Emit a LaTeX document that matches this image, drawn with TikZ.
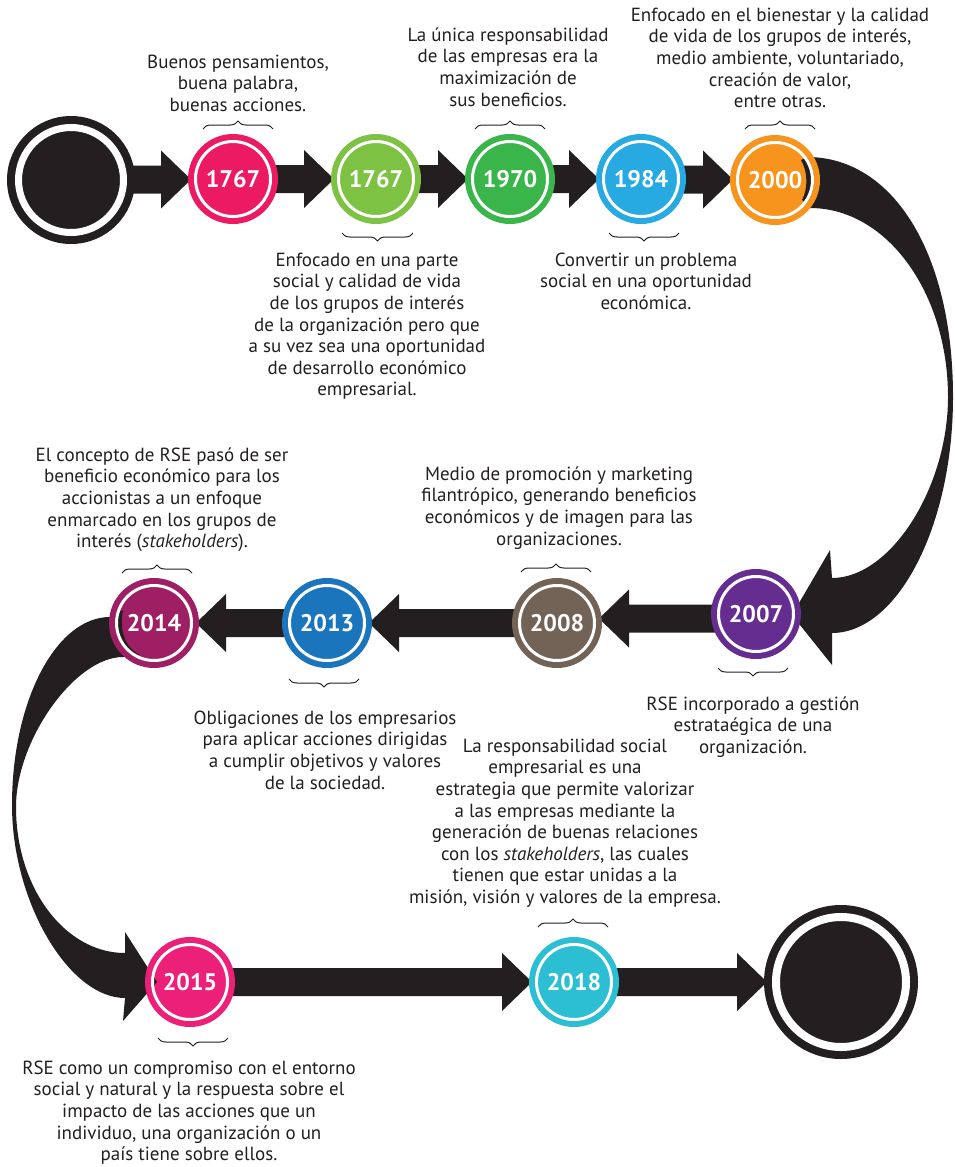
\documentclass[tikz,border=0pt]{standalone}
\usepackage{fontspec}
\setmainfont{PT Sans}
\usetikzlibrary{calc,decorations.pathreplacing}
\definecolor{ink}{HTML}{231F20}
\definecolor{c1767a}{HTML}{EC1A63}
\definecolor{c1767b}{HTML}{7DC242}
\definecolor{c1970}{HTML}{39B54A}
\definecolor{c1984}{HTML}{27AAE1}
\definecolor{c2000}{HTML}{F7941D}
\definecolor{c2007}{HTML}{662D91}
\definecolor{c2008}{HTML}{736357}
\definecolor{c2013}{HTML}{1B75BC}
\definecolor{c2014}{HTML}{9E1F63}
\definecolor{c2015}{HTML}{EC2079}
\definecolor{c2018}{HTML}{2CBFD3}
\pgfdeclarelayer{discs}
\pgfdeclarelayer{bands}
\pgfsetlayers{discs,bands,main}
\newcommand{\yearfont}{\fontsize{24}{24}\selectfont\bfseries}
\newcommand{\bodyfont}{\fontsize{19}{21.6}\selectfont}
\newcommand{\fl}{\rule{0pt}{15pt}}
\newcommand{\yearnode}[4]{%
  \node[yr=#3] (#1) at (#2) {#4};
  \draw[white, line width=3pt] (#1.center) circle (37.5pt);
  \begin{pgfonlayer}{discs}\fill[#3] (#1.center) circle (42pt);\end{pgfonlayer}}
\newcommand{\fatarrow}[3]{%
  \begin{pgfonlayer}{bands}
  \fill[ink] let \p1=(#1), \p2=(#2), \p3=($(#1)!0.5!(#2)$) in
    ({\x1-(#3)*4pt}, {\y3+14pt}) -- ({\x2-(#3)*27pt}, {\y3+14pt}) -- ({\x2-(#3)*27pt}, {\y3+29pt})
    -- ({\x2+(#3)*3pt}, {\y3}) -- ({\x2-(#3)*27pt}, {\y3-29pt}) -- ({\x2-(#3)*27pt}, {\y3-14pt})
    -- ({\x1-(#3)*4pt}, {\y3-14pt}) -- cycle;
  \end{pgfonlayer}}
\begin{document}
\begin{tikzpicture}[x=1pt,y=-1pt,
  yr/.style={circle, draw=#1, line width=6pt, minimum size=84pt, inner sep=0pt, text=white, font=\yearfont},
  txt/.style={align=center, inner sep=0pt, anchor=north, text=ink, font=\bodyfont},
  brc/.style={draw=ink, line width=1pt, decorate, decoration={brace, amplitude=8pt}}]
\useasboundingbox (0,0) rectangle (955,1167);

% start and end
\node[circle, draw=ink, fill=ink, line width=8pt, minimum size=120pt, inner sep=0pt] (start) at (71,180) {};
\draw[white, line width=7pt] (start.center) circle (52.5pt);
\node[circle, draw=ink, fill=ink, line width=8pt, minimum size=146pt, inner sep=0pt] (end) at (841,982) {};
\draw[white, line width=8pt] (end.center) circle (65pt);

% year circles
\yearnode{y1767a}{233,179}{c1767a}{1767}
\yearnode{y1767b}{376,179}{c1767b}{1767}
\yearnode{y1970}{510,179}{c1970}{1970}
\yearnode{y1984}{641,179}{c1984}{1984}
\yearnode{y2000}{775,180}{c2000}{2000}
\yearnode{y2007}{756,614}{c2007}{2007}
\yearnode{y2008}{557,623}{c2008}{2008}
\yearnode{y2013}{327,623}{c2013}{2013}
\yearnode{y2014}{154,623}{c2014}{2014}
\yearnode{y2015}{190,982}{c2015}{2015}
\yearnode{y2018}{574,982}{c2018}{2018}

% straight arrows
\fatarrow{start.east}{y1767a.west}{1}
\fatarrow{y1767a.east}{y1767b.west}{1}
\fatarrow{y1767b.east}{y1970.west}{1}
\fatarrow{y1970.east}{y1984.west}{1}
\fatarrow{y1984.east}{y2000.west}{1}
\fatarrow{y2007.west}{y2008.east}{-1}
\fatarrow{y2008.west}{y2013.east}{-1}
\fatarrow{y2013.west}{y2014.east}{-1}
\fatarrow{y2015.east}{y2018.west}{1}
\fatarrow{y2018.east}{end.west}{1}

% curved arrows
\coordinate (rbtip) at ($(y2007.center)+(36,1)$);
\coordinate (lbtip) at ($(y2015.center)+(-33,0)$);
\begin{pgfonlayer}{bands}
\fill[ink] (801,160) -- (807,157) .. controls (893,157) and (953,253) .. (953,397)
  .. controls (953,527) and (897,633) .. (832,633)
  -- (832,665) -- (rbtip) -- (830,550) -- (832,578)
  .. controls (891,578) and (948,487) .. (948,397)
  .. controls (948,293) and (887,208) .. (810,208)
  -- (802,200) .. controls (808,189) and (808,172) .. (801,160) -- cycle;
\fill[ink] (123,610) -- (110,617) .. controls (56,617) and (12,701) .. (12,805)
  .. controls (12,902) and (69,998) .. (125,998)
  -- (123,1021) -- (lbtip) -- (125,932) -- (125,953)
  .. controls (65,953) and (16,888) .. (16,807)
  .. controls (16,740) and (75,657) .. (123,657)
  -- (140,655) .. controls (125,648) and (119,630) .. (123,610) -- cycle;
\end{pgfonlayer}

% braces
\draw[brc] (203,129) -- (273,129);
\draw[brc] (413,233) -- (342,233);
\draw[brc] (475,129) -- (545,129);
\draw[brc] (679,233) -- (609,233);
\draw[brc] (745,129) -- (815,129);
\draw[brc] (521,572) -- (591,572);
\draw[brc] (122,573) -- (192,573);
\draw[brc] (788,668) -- (718,668);
\draw[brc] (359,679) -- (289,679);
\draw[brc] (538,927) -- (608,927);
\draw[brc] (228,1038) -- (158,1038);

% texts
\node[txt] (t1) at (238,53) {\fl Buenos pensamientos,\\buena palabra,\\buenas acciones.};
\node[txt] (t2) at (367,251) {\fl Enfocado en una parte\\social y calidad de vida\\de los grupos de interés\\de la organización pero que\\a su vez sea una oportunidad\\de desarrollo económico\\empresarial.};
\node[txt] (t3) at (508,26) {\fl La única responsabilidad\\de las empresas era la\\maximización de\\sus beneficios.};
\node[txt] (t4) at (646,251) {\fl Convertir un problema\\social en una oportunidad\\económica.};
\node[txt] (t5) at (780,6) {\fl Enfocado en el bienestar y la calidad\\de vida de los grupos de interés,\\medio ambiente, voluntariado,\\creación de valor,\\entre otras.};
\node[txt] (t6) at (559,465) {\fl Medio de promoción y marketing\\filantrópico, generando beneficios\\económicos y de imagen para las\\organizaciones.};
\node[txt] (t7) at (162,446) {\fl El concepto de RSE pasó de ser\\beneficio económico para los\\accionistas a un enfoque\\enmarcado en los grupos de\\interés (\textit{stakeholders}).};
\node[txt] (t8) at (753,695) {\fl RSE incorporado a gestión\\estrataégica de una\\organización.};
\node[txt] (t9) at (325,709) {\fl Obligaciones de los empresarios\\para aplicar acciones dirigidas\\a cumplir objetivos y valores\\de la sociedad.};
\node[txt] (t10) at (565,737) {\fl La responsabilidad social\\empresarial es una\\estrategia que permite valorizar\\a las empresas mediante la\\generación de buenas relaciones\\con los \textit{stakeholders}, las cuales\\tienen que estar unidas a la\\misión, visión y valores de la empresa.};
\node[txt] (t11) at (189,1059) {\fl RSE como un compromiso con el entorno\\social y natural y la respuesta sobre el\\impacto de las acciones que un\\individuo, una organización o un\\país tiene sobre ellos.};
\end{tikzpicture}
\end{document}
